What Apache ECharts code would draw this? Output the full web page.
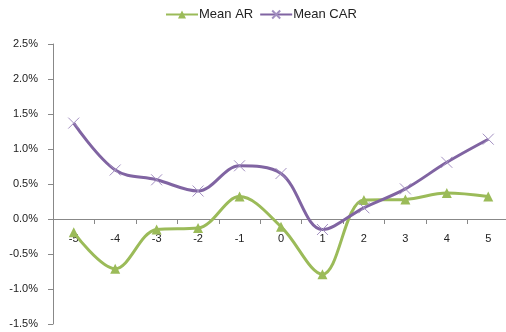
<!DOCTYPE html>
<html>
<head>
<meta charset="utf-8">
<script src="https://cdn.jsdelivr.net/npm/echarts@6/dist/echarts.min.js"></script>
<style>
  html, body { margin: 0; padding: 0; background: #fff; }
  #chart { width: 506px; height: 332px; }
</style>
</head>
<body>
<div id="chart"></div>
<script>
// event days
var days = ['-5', '-4', '-3', '-2', '-1', '0', '1', '2', '3', '4', '5'];
// values in percent
var meanAR = [-0.19, -0.71, -0.15, -0.13, 0.32, -0.11, -0.79, 0.27, 0.28, 0.37, 0.32];
var meanCAR = [1.37, 0.70, 0.56, 0.40, 0.76, 0.65, -0.15, 0.16, 0.43, 0.81, 1.14];

var green = '#9BBB59';
var purple = '#8064A2';
var labelFont = { fontFamily: 'Liberation Sans', fontSize: 11, color: '#222' };

var myChart = echarts.init(document.getElementById('chart'));

var option = {
    animation: false,
    legend: {
        top: 8,
        left: 165,
        padding: 0,
        itemWidth: 32,
        itemHeight: 10,
        itemGap: 6,
        textStyle: { fontFamily: 'Liberation Sans', fontSize: 13, color: '#222', padding: [0, 0, 0, -4] },
        data: ['Mean AR', 'Mean CAR']
    },
    grid: {
        left: 53,
        right: -3,
        top: 44,
        bottom: 8,
        containLabel: false,
        outerBoundsMode: 'none'
    },
    xAxis: {
        type: 'category',
        data: days,
        boundaryGap: true,
        axisLine: { onZero: true, lineStyle: { color: '#888', width: 1 } },
        axisTick: { show: true, inside: false, length: 5, lineStyle: { color: '#888' } },
        // labels sit just under the zero line, like the original
        axisLabel: Object.assign({ margin: -91 }, labelFont),
        splitLine: { show: false }
    },
    yAxis: {
        type: 'value',
        min: -1.5,
        max: 2.5,
        interval: 0.5,
        axisLine: { show: true, lineStyle: { color: '#888', width: 1 } },
        axisTick: { show: true, length: 5, lineStyle: { color: '#888' } },
        axisLabel: Object.assign({
            margin: 15,
            formatter: function (v) { return v.toFixed(1) + '%'; }
        }, labelFont),
        splitLine: { show: false }
    },
    series: [
        {
            name: 'Mean AR',
            type: 'line',
            data: meanAR,
            smooth: 0.35,
            symbol: 'triangle',
            symbolSize: 10,
            lineStyle: { color: green, width: 3 },
            itemStyle: { color: green }
        },
        {
            name: 'Mean CAR',
            type: 'line',
            data: meanCAR,
            smooth: 0.35,
            symbol: 'path://M0,0L10,10M10,0L0,10',
            symbolSize: 11,
            lineStyle: { color: purple, width: 3 },
            itemStyle: { color: 'rgba(0,0,0,0)', borderColor: '#A28FC0', borderWidth: 1 }
        }
    ]
};

myChart.setOption(option);
</script>
</body>
</html>
